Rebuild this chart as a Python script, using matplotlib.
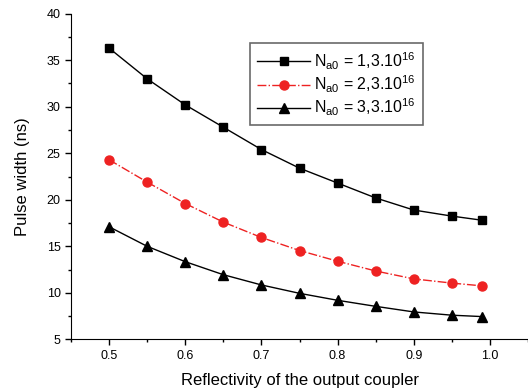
import matplotlib
matplotlib.use("Agg")
import matplotlib.pyplot as plt
from matplotlib.ticker import MultipleLocator

# reflectivity of the output coupler
reflectivity = [0.5, 0.55, 0.6, 0.65, 0.7, 0.75, 0.8, 0.85, 0.9, 0.95, 0.99]

# pulse width (ns) for each initial population density
width_13 = [36.3, 33.0, 30.2, 27.8, 25.4, 23.4, 21.8, 20.2, 18.9, 18.25, 17.8]
width_23 = [24.3, 21.9, 19.6, 17.6, 15.95, 14.55, 13.4, 12.35, 11.5, 11.05, 10.75]
width_33 = [17.1, 15.0, 13.35, 11.95, 10.85, 9.95, 9.2, 8.55, 7.95, 7.6, 7.45]

labels = [r'N$_{\mathrm{a0}}$ = 1,3.10$^{16}$',
          r'N$_{\mathrm{a0}}$ = 2,3.10$^{16}$',
          r'N$_{\mathrm{a0}}$ = 3,3.10$^{16}$']

plt.rcParams['font.family'] = ['Liberation Sans', 'DejaVu Sans']
plt.rcParams['mathtext.fontset'] = 'custom'
plt.rcParams['mathtext.rm'] = 'Liberation Sans'
plt.rcParams['mathtext.it'] = 'Liberation Sans:italic'

fig = plt.figure(figsize=(5.28, 3.91), dpi=100)
ax = fig.add_axes([0.1345, 0.132, 0.8655, 0.833])

ax.plot(reflectivity, width_13, color='black', lw=1.0, marker='s', ms=5.5, label=labels[0])
ax.plot(reflectivity, width_23, color='#ee2222', lw=1.0, ls='-.', marker='o', ms=6.5,
        label=labels[1])
ax.plot(reflectivity, width_33, color='black', lw=1.0, marker='^', ms=7, label=labels[2])

ax.set_xlim(0.45, 1.05)
ax.set_ylim(5, 40)
ax.xaxis.set_major_locator(MultipleLocator(0.1))
ax.xaxis.set_minor_locator(MultipleLocator(0.05))
ax.yaxis.set_major_locator(MultipleLocator(5))
ax.yaxis.set_minor_locator(MultipleLocator(2.5))
ax.set_xticks([0.5, 0.6, 0.7, 0.8, 0.9, 1.0])
ax.set_xticklabels(['0.5', '0.6', '0.7', '0.8', '0.9', '1.0'])

ax.spines['top'].set_visible(False)
ax.spines['right'].set_visible(False)
ax.tick_params(which='major', direction='out', length=4, width=1, labelsize=9)
ax.tick_params(which='minor', direction='out', length=2.5, width=1)

ax.set_xlabel('Reflectivity of the output coupler', fontsize=12, labelpad=8)
ax.set_ylabel('Pulse width (ns)', fontsize=12, labelpad=12)

leg = ax.legend(loc='upper left', bbox_to_anchor=(0.4735, 0.89), bbox_transform=fig.transFigure,
                borderaxespad=0, fancybox=False, fontsize=11.5, handlelength=3.3,
                handletextpad=0.25, labelspacing=0.12, borderpad=0.45)
leg.get_frame().set_edgecolor('#444444')
leg.get_frame().set_linewidth(1.2)

fig.savefig('out.png', dpi=100)
